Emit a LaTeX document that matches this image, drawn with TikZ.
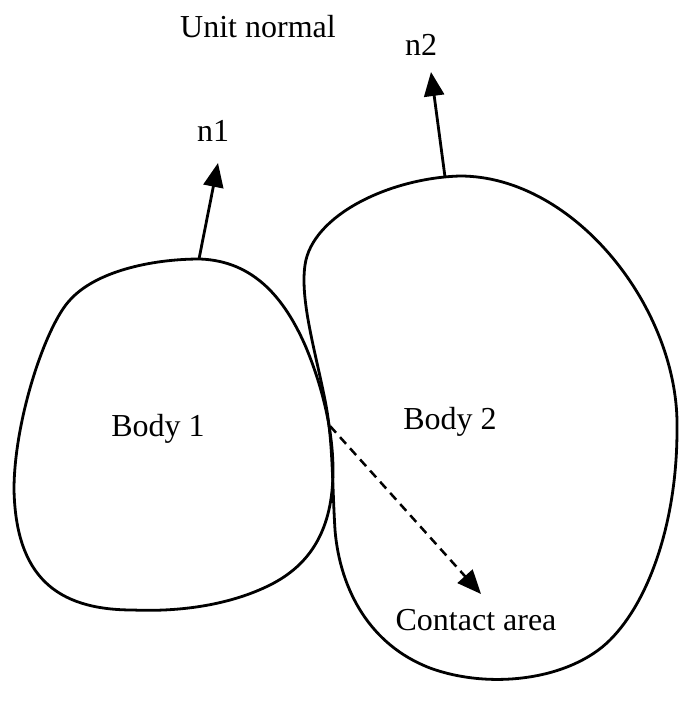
\documentclass[tikz,border=0pt]{standalone}
\usepackage{fontspec}
\setmainfont{Liberation Serif}
\usetikzlibrary{arrows.meta}
\begin{document}
\begin{tikzpicture}[x=1pt,y=-1pt,
  outline/.style={line width=2.8pt, line join=round},
  normalarrow/.style={line width=2.8pt, -{Triangle[length=24pt,width=20pt]}},
  contactarrow/.style={line width=2.5pt, dash pattern=on 9pt off 6pt, -{Triangle[length=24pt,width=20pt]}},
  lbl/.style={font=\fontsize{32}{38}\selectfont, inner sep=0pt}]
\useasboundingbox (0,0) rectangle (678,704);

% Body 1
\draw[outline] (200,259)
  .. controls (255,261) and (285,300) .. (305,345)
  .. controls (322,385) and (333,430) .. (333,470)
  .. controls (333,530) and (310,565) .. (270,585)
  .. controls (230,605) and (180,612) .. (133,610)
  .. controls (55,610) and (16,575) .. (14,490)
  .. controls (14,420) and (46,325) .. (70,300)
  .. controls (95,272) and (150,259) .. cycle;

% Body 2
\draw[outline] (460,176)
  .. controls (575,176) and (680,310) .. (677,430)
  .. controls (677,520) and (650,600) .. (610,640)
  .. controls (570,680) and (490,690) .. (430,668)
  .. controls (370,645) and (340,590) .. (335,530)
  .. controls (332,480) and (333,440) .. (325,400)
  .. controls (315,350) and (300,300) .. (305,265)
  .. controls (312,215) and (390,178) .. cycle;

% points on the outlines and free ends of the arrows
\coordinate (n1base) at (199,259);
\coordinate (n1tip)  at (218,163);
\coordinate (n2base) at (445,177);
\coordinate (n2tip)  at (431,72);
\coordinate (contact) at (330,426);
\coordinate (ctip)   at (481,594);

\node[lbl] (unitnormal) at (258,27) {Unit normal};
\node[lbl] (n1) at (213,131) {n1};
\node[lbl] (n2) at (421,45) {n2};
\node[lbl] (body1) at (158,429) {Body 1};
\node[lbl] (body2) at (450,422) {Body 2};
\node[lbl] (carea) at (476,620) {Contact area};

\draw[normalarrow] (n1base) -- (n1tip);
\draw[normalarrow] (n2base) -- (n2tip);
\draw[contactarrow] (contact) -- (ctip);
\end{tikzpicture}
\end{document}
